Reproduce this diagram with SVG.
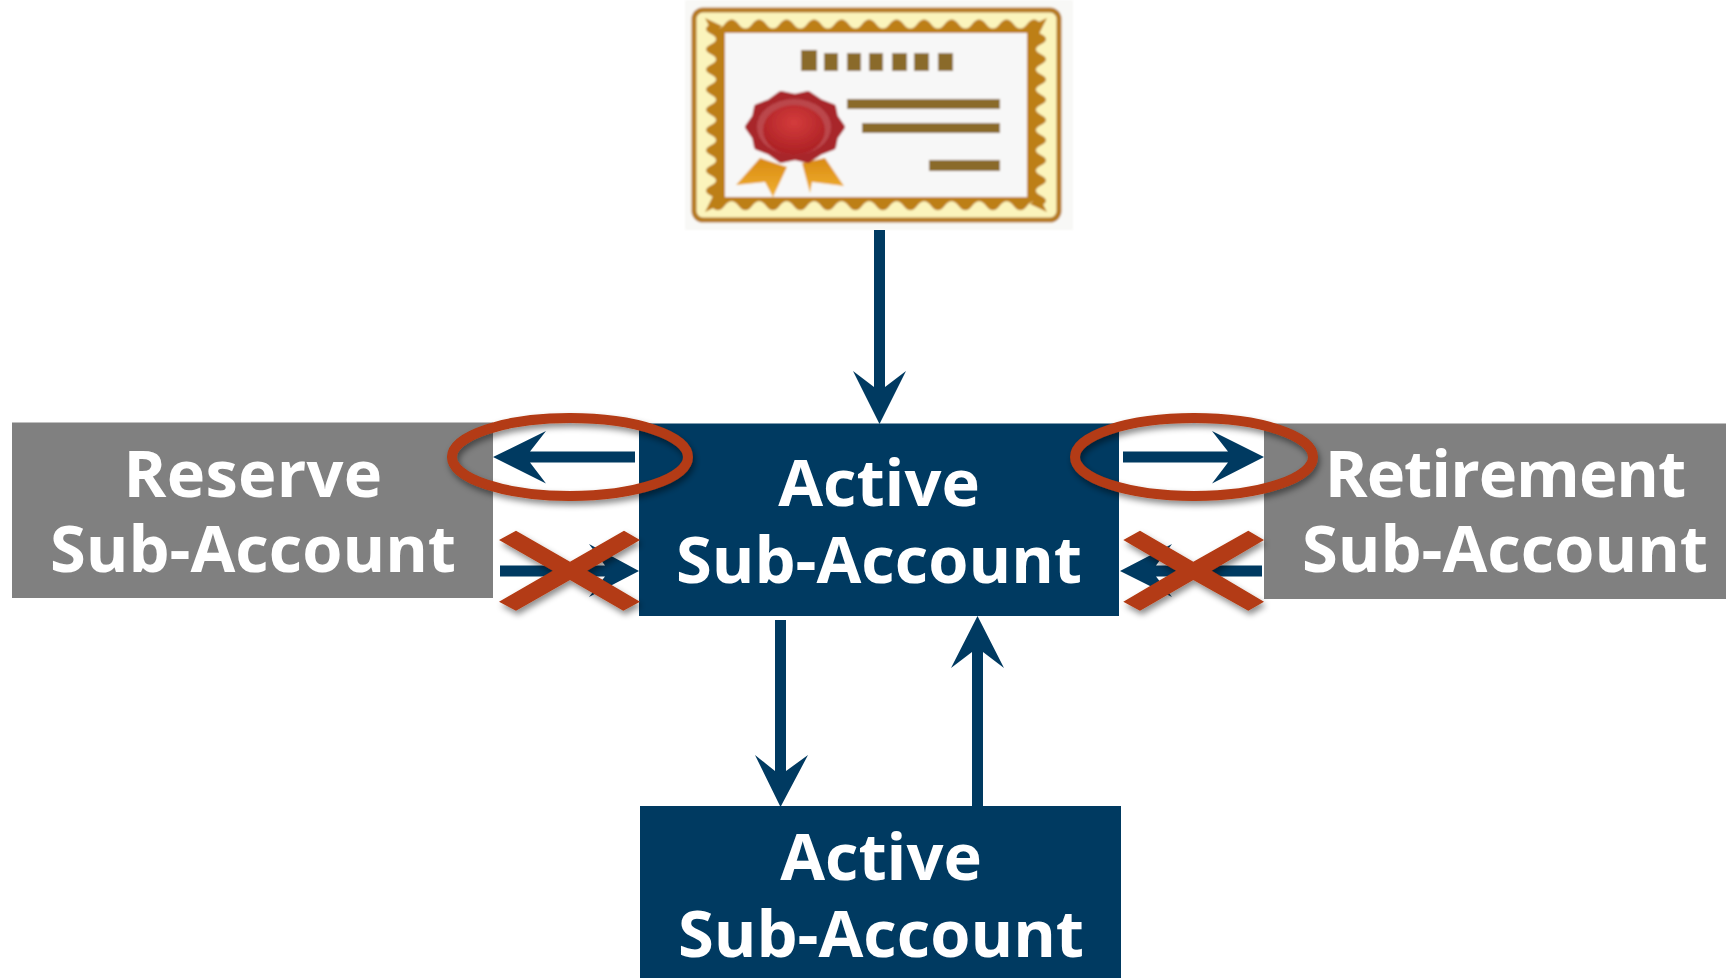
<svg xmlns="http://www.w3.org/2000/svg" width="1726" height="978" viewBox="0 0 1726 978">
<style>
.navy{fill:#003a61}
.grey{fill:#808080}
.lbl{font-family:"Open Sans","Noto Sans","DejaVu Sans",sans-serif;font-weight:700;font-size:65px;fill:#fff;text-anchor:middle}
.ring{fill:none;stroke:#b33a12;stroke-width:10;filter:url(#sh)}
.cross{fill:#b33a12;filter:url(#sh)}
.bar{fill:#8a6a2a}
.scal{fill:#bd7f17}
</style>
<defs>
<filter id="sh" x="-20%" y="-40%" width="140%" height="190%"><feDropShadow dx="2" dy="4" stdDeviation="3" flood-color="#000" flood-opacity=".45"/></filter>
<filter id="soft"><feGaussianBlur stdDeviation=".8"/></filter>
<radialGradient id="wax" cx=".5" cy=".35" r=".7"><stop offset="0" stop-color="#d43c3c"/><stop offset="1" stop-color="#a81e22"/></radialGradient>
<linearGradient id="rib" x1="0" y1="0" x2="0" y2="1"><stop offset="0" stop-color="#d98a12"/><stop offset="1" stop-color="#f0b030"/></linearGradient>
</defs>
<rect width="1726" height="978" fill="#fff"/>
<g id="certificate" filter="url(#soft)">
<rect x="685" y="0" width="388" height="230" fill="#f8f8f6"/>
<rect x="694" y="10" width="365" height="210" rx="9" fill="#fbf4bc" stroke="#b57a22" stroke-width="5"/>
<path class="scal" d="M711 24q6.900 9 13.750 0t13.750 0 13.750 0 13.750 0 13.750 0 13.750 0 13.750 0 13.750 0 13.750 0 13.750 0 13.750 0 13.750 0 13.750 0 13.750 0 13.750 0 13.750 0 13.750 0 13.750 0 13.750 0 13.750 0 13.750 0 13.750 0 13.750 0 13.750 0q-10 5 0 10.100t0 10.100 0 10.100 0 10.100 0 10.100 0 10.100 0 10.100 0 10.100 0 10.100 0 10.100 0 10.100 0 10.100 0 10.100 0 10.100 0 10.100 0 10.100 0 10.100 0 10.100q-6.900 -9 -13.750 0t-13.750 0 -13.750 0 -13.750 0 -13.750 0 -13.750 0 -13.750 0 -13.750 0 -13.750 0 -13.750 0 -13.750 0 -13.750 0 -13.750 0 -13.750 0 -13.750 0 -13.750 0 -13.750 0 -13.750 0 -13.750 0 -13.750 0 -13.750 0 -13.750 0 -13.750 0 -13.750 0q10 -5 0 -10.100t0 -10.100 0 -10.100 0 -10.100 0 -10.100 0 -10.100 0 -10.100 0 -10.100 0 -10.100 0 -10.100 0 -10.100 0 -10.100 0 -10.100 0 -10.100 0 -10.100 0 -10.100 0 -10.100 0 -10.100z"/>
<polygon class="scal" points="705,18 722,26 713,34"/>
<polygon class="scal" points="1047,18 1030,26 1039,34"/>
<polygon class="scal" points="705,212 722,204 713,196"/>
<polygon class="scal" points="1047,212 1030,204 1039,196"/>
<rect x="725" y="33" width="302" height="164" fill="#f7f7f7"/>
<rect class="bar" x="801" y="50" width="16" height="21"/>
<rect class="bar" x="824" y="53" width="14" height="18"/>
<rect class="bar" x="847" y="53" width="14" height="18"/>
<rect class="bar" x="869" y="53" width="14" height="18"/>
<rect class="bar" x="892" y="53" width="15" height="18"/>
<rect class="bar" x="914" y="53" width="15" height="18"/>
<rect class="bar" x="938" y="53" width="15" height="18"/>
<rect class="bar" x="847" y="99" width="153" height="10"/>
<rect class="bar" x="862" y="123" width="138" height="10"/>
<rect class="bar" x="929" y="160" width="71" height="11"/>
<polygon fill="url(#rib)" points="760,158 787,167 773,197 765,182 736,185"/>
<polygon fill="url(#rib)" points="802,163 825,158 844,186 812,182 810,193"/>
<polygon fill="#a8262c" stroke="#a8262c" stroke-width="6" stroke-linejoin="round" points="842,127 835,137 833,147 820,152 808,160 795,157 781,160 770,152 757,147 755,137 748,127 755,117 757,107 770,102 781,94 795,97 808,94 820,102 833,107 835,117"/>
<ellipse cx="794" cy="127" rx="37" ry="28" fill="#bb474c"/>
<ellipse cx="794" cy="130" rx="31" ry="25" fill="url(#wax)"/>
</g>
<g id="reserve"><rect class="grey" x="12" y="422.500" width="481" height="175.500"/>
<text class="lbl" x="253" y="496.500" letter-spacing=".3">Reserve</text><text class="lbl" x="253" y="572">Sub-Account</text></g>
<g id="retirement"><rect class="grey" x="1264" y="423.500" width="462" height="175.500"/>
<text class="lbl" x="1505" y="497" letter-spacing="-1">Retirement</text><text class="lbl" x="1505" y="572">Sub-Account</text></g>
<g id="active-top"><rect class="navy" x="639" y="423.500" width="480" height="192.500"/>
<text class="lbl" x="879" y="506">Active</text><text class="lbl" x="879" y="583">Sub-Account</text></g>
<g id="active-bottom"><rect class="navy" x="640" y="806" width="481" height="172"/>
<text class="lbl" x="881" y="880">Active</text><text class="lbl" x="881" y="957">Sub-Account</text></g>
<g id="connectors">
<polygon class="navy" points="874,230 885,230 885,387 906,371 879.500,424 853,371 874,387"/>
<polygon class="navy" points="775,620 786,620 786,771 808,755 780.500,807 755,755 775,771"/>
<polygon class="navy" points="972,807 983,807 983,652 1004,668 977.500,616 951,668 972,652"/>
<polygon class="navy" points="635,451.500 530,451.500 546,431 493,457 546,483.500 530,462.500 635,462.500"/>
<polygon class="navy" points="1123,451.500 1228,451.500 1212,431 1264,457 1212,483.500 1228,462.500 1123,462.500"/>
<polygon class="navy" points="500,565.500 605,565.500 589,544 639,571 589,597 605,576.500 500,576.500"/>
<polygon class="navy" points="1262,565.500 1156,565.500 1172,544 1120,571 1172,597 1156,576.500 1262,576.500"/>
</g>
<g id="marks">
<ellipse class="ring" cx="570" cy="457" rx="118" ry="39"/>
<ellipse class="ring" cx="1194" cy="457" rx="119" ry="39"/>
<polygon class="cross" points="499,540 516,530.700 570,561.700 624,530.700 640,540 587.300,570.700 640,601.700 623.300,610.700 570,580 516,610.700 499,601.700 552.700,570.700"/>
<polygon class="cross" points="1123.300,540 1140,530.700 1193.300,561.700 1248.300,530.700 1264,540 1211.700,570.700 1264,601.700 1248.300,610.700 1193.300,580 1140,610.700 1123.300,601.700 1176,570.700"/>
</g>
</svg>
